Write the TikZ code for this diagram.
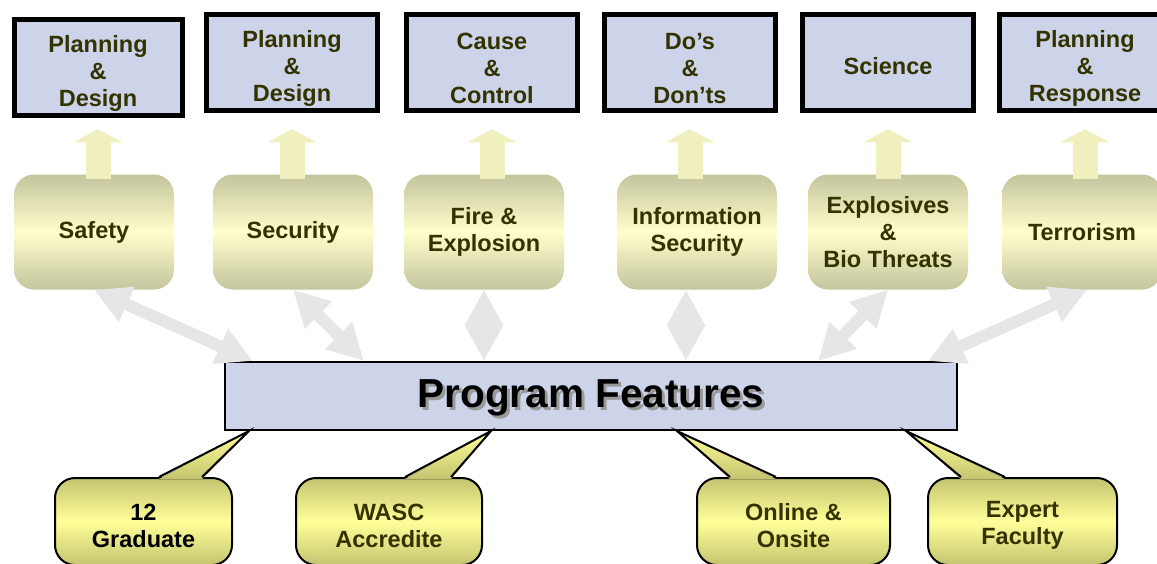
\documentclass[tikz,border=0pt]{standalone}
\usepackage{fontspec}
\setmainfont{Liberation Sans}
\usetikzlibrary{arrows.meta,calc}
\definecolor{boxblue}{RGB}{205,211,232}
\definecolor{olivetext}{RGB}{51,51,0}
\definecolor{areaolive}{RGB}{196,196,158}
\definecolor{areayellow}{RGB}{255,255,204}
\definecolor{callolive}{RGB}{196,196,112}
\definecolor{callyellow}{RGB}{255,255,153}
\definecolor{flowgray}{RGB}{230,230,230}
\definecolor{flowyellow}{RGB}{240,240,190}

\begin{document}
\begin{tikzpicture}[x=1pt,y=-1pt,
  every node/.style={font=\fontsize{23.5}{27}\selectfont\bfseries, align=center, text=olivetext},
  topic/.style={draw=black, line width=5pt, fill=boxblue, minimum width=171pt, minimum height=96pt, inner sep=0pt,
    text height=83pt},
  area/.style={rounded corners=20pt, top color=areaolive, bottom color=areaolive, middle color=areayellow,
    minimum width=160pt, minimum height=115pt, inner sep=0pt},
  featurebox/.style={draw=black, line width=2pt, fill=boxblue, minimum width=732pt, minimum height=68pt},
  callbox/.style={draw=black, line width=2pt, rounded corners=20pt, top color=callolive, bottom color=callolive,
    middle color=callyellow, minimum height=87pt, inner sep=0pt, text height=51.5pt},
  tipfill/.style={top color=callyellow, bottom color=callolive},
  tipline/.style={draw=black, line width=2pt, line join=miter},
  upflow/.style={line width=25pt, flowyellow, -{Triangle[length=13pt,width=49pt]}},
  twoway/.style={line width=12pt, flowgray, {Triangle[length=36pt,width=36pt]}-{Triangle[length=36pt,width=36pt]}},
]
  \clip (0,0) rectangle (1157,563);

  \node[topic, minimum width=168pt] (p1) at (98,67) {Planning\\\&\\Design};
  \node[topic] (p2) at (292,62.5) {Planning\\\&\\Design};
  \node[topic] (p3) at (492,62.5) {Cause\\\&\\Control};
  \node[topic] (p4) at (690,62.5) {Do’s\\\&\\Don’ts};
  \node[topic, text height=25pt] (p5) at (888,62.5) {Science};
  \node[topic] (p6) at (1085,62.5) {Planning\\\&\\Response};

  \node[area] (s1) at (94,232) {Safety};
  \node[area] (s2) at (293,232) {Security};
  \node[area] (s3) at (484,232) {Fire \&\\Explosion};
  \node[area] (s4) at (697,232) {Information\\Security};
  \node[area] (s5) at (888,232) {Explosives\\\&\\Bio Threats};
  \node[area] (s6) at (1082,232) {Terrorism};

  \foreach \s/\p in {s1/p1,s2/p2,s3/p3,s4/p4,s5/p5,s6/p6}
    \draw[upflow] ($(\s.north -| \p.south)+(0,5)$) -- ($(\s.north -| \p.south)+(0,-45)$);

  \node[featurebox] (pf) at (591,396) {};
  \node[text=black!40, font=\fontsize{40.5}{48}\selectfont\bfseries] at ($(pf)+(3,4.5)$) {Program Features};
  \node[text=black, font=\fontsize{40.5}{48}\selectfont\bfseries] (pftext) at ($(pf)+(0,1.5)$) {Program Features};

  \coordinate (d4) at ($(s4.south)+(-11,0)$);
  \draw[twoway] (s1.south) -- ($(pf.north west)+(29,0)$);
  \draw[twoway] (s2.south) -- ($(pf.north west)+(140,0)$);
  \draw[twoway] (s3.south) -- (s3.south |- pf.north);
  \draw[twoway] (d4) -- (d4 |- pf.north);
  \draw[twoway] (s5.south) -- ($(pf.north west)+(594,0)$);
  \draw[twoway] ($(s6.south)+(5,0)$) -- ($(pf.north west)+(704,0)$);

  \node[callbox, minimum width=177pt, text=black] (c1) at (143.5,521.5) {12\\Graduate};
  \node[callbox, minimum width=186pt] (c2) at (389,521.5) {WASC\\Accredite};
  \node[callbox, minimum width=193pt] (c3) at (793.5,521.5) {Online \&\\Onsite};
  \node[callbox, minimum width=189pt] (c4) at (1022.5,521.5) {Expert\\Faculty};

  \coordinate (t1) at ($(pf.south west)+(25,0)$);
  \coordinate (t2) at ($(pf.south west)+(267,0)$);
  \coordinate (t3) at ($(pf.south west)+(453,0)$);
  \coordinate (t4) at ($(pf.south west)+(682,0)$);
  \foreach \c/\t/\a/\b in {c1/t1/15.5/58.5,c2/t2/16/62,c3/t3/-63.5/-17.5,c4/t4/-61.5/-17.5} {
    \fill[tipfill] ($(\c.north)+(\a,2)$) -- (\t) -- ($(\c.north)+(\b,2)$) -- cycle;
    \draw[tipline] ($(\c.north)+(\a,0)$) -- (\t) -- ($(\c.north)+(\b,0)$);
  }
\end{tikzpicture}
\end{document}
